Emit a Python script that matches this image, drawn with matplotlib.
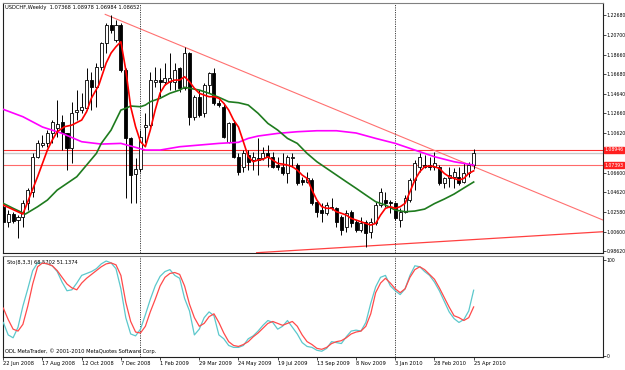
import numpy as np
import matplotlib.pyplot as plt
from matplotlib.transforms import blended_transform_factory

# ---- weekly USDCHF candles, 22 Jun 2008 .. 25 Apr 2010 (bar index 0..96) ----
opens = [1.0314, 1.0161, 1.0239, 1.0178, 1.0212, 1.0348, 1.0467, 1.0824, 1.0943, 1.0960,
         1.1062, 1.1117, 1.1181, 1.1062, 1.0910, 1.1283, 1.1300, 1.1318, 1.1606, 1.1538,
         1.1742, 1.1981, 1.2167, 1.2014, 1.2167, 1.1708, 1.1015, 1.0647, 1.0698, 1.1130,
         1.1147, 1.1589, 1.1606, 1.1589, 1.1589, 1.1589, 1.1726, 1.1522, 1.1879, 1.1232,
         1.1436, 1.1267, 1.1555, 1.1675, 1.1369, 1.1334, 1.0977, 1.1164, 1.0824, 1.0722,
         1.0841, 1.0790, 1.0807, 1.0807, 1.0858, 1.0824, 1.0739, 1.0722, 1.0654, 1.0807,
         1.0739, 1.0586, 1.0569, 1.0586, 1.0365, 1.0280, 1.0247, 1.0314, 1.0298, 1.0212,
         1.0110, 1.0263, 1.0161, 1.0076, 1.0161, 1.0059, 1.0144, 1.0331, 1.0382, 1.0365,
         1.0348, 1.0178, 1.0263, 1.0382, 1.0586, 1.0722, 1.0739, 1.0739, 1.0722, 1.0722,
         1.0552, 1.0603, 1.0620, 1.0620, 1.0569, 1.0654, 1.07368]
highs = [1.0484, 1.0280, 1.0263, 1.0229, 1.0382, 1.0505, 1.0862, 1.0994, 1.1045, 1.1096,
         1.1198, 1.1402, 1.1249, 1.1065, 1.1385, 1.1504, 1.1474, 1.1729, 1.1691, 1.1780,
         1.1997, 1.2184, 1.2269, 1.2218, 1.2184, 1.1729, 1.1025, 1.0810, 1.1096, 1.1270,
         1.1691, 1.1742, 1.1729, 1.1780, 1.1879, 1.1776, 1.1742, 1.1946, 1.1895, 1.1453,
         1.1504, 1.1576, 1.1691, 1.1726, 1.1402, 1.1369, 1.1181, 1.1198, 1.0862, 1.0892,
         1.0892, 1.0875, 1.1011, 1.0926, 1.0943, 1.0875, 1.0824, 1.0858, 1.0841, 1.0858,
         1.0756, 1.0620, 1.0671, 1.0603, 1.0382, 1.0348, 1.0365, 1.0399, 1.0314, 1.0229,
         1.0280, 1.0280, 1.0178, 1.0212, 1.0178, 1.0195, 1.0365, 1.0501, 1.0467, 1.0382,
         1.0365, 1.0298, 1.0433, 1.0603, 1.0790, 1.0858, 1.0841, 1.0824, 1.0875, 1.0739,
         1.0620, 1.0722, 1.0705, 1.0722, 1.0756, 1.0773, 1.08978]
lows = [1.0096, 1.0110, 1.0147, 0.9994, 1.0110, 1.0280, 1.0416, 1.0810, 1.0926, 1.0926,
        1.0960, 1.1028, 1.0892, 1.0688, 1.0756, 1.1198, 1.1270, 1.1300, 1.1300, 1.1334,
        1.1708, 1.1879, 1.2082, 1.1997, 1.1691, 1.0403, 1.0352, 1.0352, 1.0668, 1.0964,
        1.1130, 1.1538, 1.1436, 1.1555, 1.1504, 1.1504, 1.1487, 1.1504, 1.1147, 1.1198,
        1.1232, 1.1232, 1.1471, 1.1351, 1.1334, 1.1011, 1.0960, 1.0810, 1.0637, 1.0671,
        1.0688, 1.0688, 1.0637, 1.0790, 1.0722, 1.0705, 1.0688, 1.0637, 1.0552, 1.0722,
        1.0535, 1.0535, 1.0552, 1.0331, 1.0212, 1.0161, 1.0229, 1.0280, 1.0110, 1.0025,
        1.0059, 1.0110, 1.0059, 1.0059, 0.9906, 0.9998, 1.0127, 1.0314, 1.0314, 1.0247,
        1.0178, 1.0110, 1.0247, 1.0365, 1.0484, 1.0671, 1.0705, 1.0688, 1.0688, 1.0535,
        1.0501, 1.0518, 1.0501, 1.0535, 1.0552, 1.0620, 1.06984]
closes = [1.0161, 1.0239, 1.0171, 1.0212, 1.0355, 1.0484, 1.0824, 1.0964, 1.0964, 1.1062,
          1.1181, 1.1157, 1.1062, 1.0910, 1.1267, 1.1300, 1.1334, 1.1606, 1.1538, 1.1742,
          1.1981, 1.2167, 1.2116, 1.2167, 1.1708, 1.1015, 1.0637, 1.0698, 1.1028, 1.1147,
          1.1606, 1.1606, 1.1589, 1.1627, 1.1627, 1.1708, 1.1522, 1.1879, 1.1232, 1.1436,
          1.1249, 1.1555, 1.1675, 1.1369, 1.1351, 1.1028, 1.1164, 1.0824, 1.0671, 1.0858,
          1.0773, 1.0824, 1.0790, 1.0858, 1.0824, 1.0722, 1.0722, 1.0654, 1.0824, 1.0824,
          1.0552, 1.0569, 1.0603, 1.0348, 1.0263, 1.0247, 1.0331, 1.0298, 1.0161, 1.0076,
          1.0247, 1.0144, 1.0076, 1.0144, 1.0042, 1.0161, 1.0331, 1.0467, 1.0348, 1.0348,
          1.0195, 1.0263, 1.0399, 1.0586, 1.0756, 1.0824, 1.0722, 1.0722, 1.0756, 1.0552,
          1.0603, 1.0637, 1.0671, 1.0552, 1.0654, 1.0739, 1.08652]

# ---- moving averages ----
ma_fast_x = [0, 4, 7, 9, 10, 11, 12.5, 14, 16, 17, 18, 19.5, 21, 22, 23, 24, 25, 26, 27, 28,
             29, 30, 31, 32, 33, 34, 35, 36, 37, 38, 39, 40, 41, 42, 43, 44, 45, 46, 47, 48,
             49, 50, 51, 52, 53, 54, 55, 56, 57, 58, 59, 60, 61, 62, 63, 64, 65, 66, 67, 68,
             69, 70, 71, 72, 73, 74, 75, 76, 77, 78, 79, 80, 81, 82, 83, 84, 85, 86, 87, 88,
             89, 90, 91, 92, 93, 94, 95, 96]
ma_fast = [1.0331, 1.0239, 1.0620, 1.0892, 1.0994, 1.1079, 1.1130, 1.1147, 1.1198, 1.1283,
           1.1423, 1.1555, 1.1780, 1.1882, 1.1946, 1.1997, 1.1708, 1.1334, 1.1130, 1.0977,
           1.0926, 1.1096, 1.1300, 1.1474, 1.1555, 1.1589, 1.1606, 1.1606, 1.1640, 1.1589,
           1.1522, 1.1471, 1.1453, 1.1436, 1.1436, 1.1420, 1.1369, 1.1300, 1.1198, 1.1127,
           1.0977, 1.0824, 1.0773, 1.0790, 1.0797, 1.0824, 1.0790, 1.0756, 1.0749, 1.0739,
           1.0722, 1.0688, 1.0637, 1.0603, 1.0484, 1.0382, 1.0314, 1.0298, 1.0298, 1.0263,
           1.0247, 1.0229, 1.0195, 1.0178, 1.0161, 1.0144, 1.0127, 1.0144, 1.0229, 1.0298,
           1.0314, 1.0298, 1.0314, 1.0348, 1.0467, 1.0586, 1.0671, 1.0722, 1.0729, 1.0722,
           1.0705, 1.0654, 1.0620, 1.0603, 1.0586, 1.0603, 1.0654, 1.0680]

ma_mid_x = [0, 2, 4.5, 7, 9, 11, 13, 15, 17, 19, 20, 22, 23, 24, 25, 26, 28, 29, 30, 32,
            34, 36, 37, 40, 42, 44, 46, 48, 50, 52, 54, 56, 58, 60, 62, 64, 66, 68, 70, 72,
            74, 76, 78, 80, 82, 84, 86, 88, 90, 92, 94, 96]
ma_mid = [1.0348, 1.0298, 1.0239, 1.0314, 1.0382, 1.0484, 1.0552, 1.0620, 1.0739, 1.0858,
          1.0960, 1.1096, 1.1198, 1.1300, 1.1318, 1.1341, 1.1334, 1.1351, 1.1385, 1.1420,
          1.1471, 1.1504, 1.1532, 1.1504, 1.1471, 1.1430, 1.1385, 1.1375, 1.1351, 1.1267,
          1.1164, 1.1096, 1.1011, 1.0960, 1.0858, 1.0773, 1.0705, 1.0637, 1.0569, 1.0502,
          1.0433, 1.0365, 1.0331, 1.0280, 1.0263, 1.0270, 1.0290, 1.0346, 1.0392, 1.0443,
          1.0505, 1.0566]

ma_slow_x = [0, 4, 8, 12, 16, 20, 24, 26.5, 29, 32, 36, 40, 44, 48, 50, 52, 56, 60, 64, 68,
             72, 76, 80, 84, 88, 92, 96]
ma_slow = [1.1307, 1.1232, 1.1127, 1.1062, 1.0977, 1.0953, 1.0960, 1.0926, 1.0892, 1.0892,
           1.0926, 1.0943, 1.0960, 1.0971, 1.1011, 1.1035, 1.1062, 1.1079, 1.1089, 1.1089,
           1.1066, 1.1011, 1.0960, 1.0892, 1.0824, 1.0773, 1.0739]

# ---- drawn objects ----
trend_down_x = [20.8, 122.4]
trend_down_y = [1.2276, 1.0178]
trend_up_x = [51.7, 122.4]
trend_up_y = [0.9845, 1.0059]
level_hi = 1.08946
level_lo = 1.07393
bid = 1.08652
separators = [27.8, 79.9]

# ---- Stochastic (8,3,3) ----
sto_main = [35, 22, 19, 30, 52, 70, 89, 97, 97, 96, 94, 88, 77, 68, 69, 76, 84, 86, 88, 91,
            96, 99, 97, 91, 70, 40, 23, 21, 28, 43, 59, 73, 83, 88, 90, 84, 81, 60, 47, 22,
            28, 40, 46, 42, 22, 18, 11, 9, 9, 11, 18, 21, 26, 32, 37, 35, 28, 31, 37, 30,
            23, 14, 10, 9, 6, 5, 8, 15, 14, 13, 20, 26, 27, 26, 35, 55, 72, 82, 84, 73,
            68, 64, 70, 84, 94, 93, 88, 84, 77, 68, 57, 46, 39, 35, 38, 47, 68.57]
sto_signal = [50, 38, 28, 26, 33, 52, 75, 93, 97, 96, 94, 89, 82, 75, 71, 69, 76, 81, 85, 89,
              93, 96, 97, 95, 84, 56, 36, 25, 24, 31, 46, 59, 73, 82, 86, 87, 85, 73, 54, 40,
              31, 34, 41, 44, 35, 24, 15, 11, 10, 12, 15, 20, 24, 29, 34, 36, 34, 32, 34, 36,
              31, 22, 15, 12, 8, 7, 9, 13, 15, 16, 19, 23, 25, 26, 31, 44, 66, 76, 81, 76,
              70, 66, 70, 82, 90, 93, 90, 85, 80, 71, 61, 51, 42, 40, 37, 40, 51.14]

date_ticks = [0, 8, 16, 24, 32, 40, 48, 56, 64, 72, 80, 88, 96]
date_labels = ['22 Jun 2008', '17 Aug 2008', '12 Oct 2008', '7 Dec 2008', '1 Feb 2009',
               '29 Mar 2009', '24 May 2009', '19 Jul 2009', '13 Sep 2009', '8 Nov 2009',
               '3 Jan 2010', '28 Feb 2010', '25 Apr 2010']
price_ticks = [1.22680, 1.20700, 1.18660, 1.16680, 1.14640, 1.12660, 1.10620,
               1.06600, 1.04620, 1.02580, 1.00600, 0.98620]

FS = 3.7     # general small text
FSP = 3.3    # price scale text
fig = plt.figure(figsize=(6.25, 3.7), dpi=100)
fig.patch.set_facecolor('white')
ax = fig.add_axes([3 / 625, 1 - 253 / 370, 600 / 625, 250 / 370])
ax2 = fig.add_axes([3 / 625, 1 - 357 / 370, 600 / 625, 101 / 370])

xlim = (-0.06, 122.4)
idx = np.arange(len(opens))
o = np.array(opens)
c = np.array(closes)

# candles
ax.vlines(idx, lows, highs, color='black', lw=0.7, zorder=2)
body_lo = np.minimum(o, c)
body_h = np.maximum(np.abs(c - o), 0.0002)
face = ['white' if cc >= oo else 'black' for oo, cc in zip(opens, closes)]
ax.bar(idx, body_h, bottom=body_lo, width=0.62, color=face, edgecolor='black',
       linewidth=0.6, zorder=3)

# levels and trendlines
ax.axhline(level_hi, color='#ff3030', lw=0.8, zorder=1)
ax.axhline(bid, color='#c8c8c8', lw=1.0, zorder=1)
ax.axhline(level_lo, color='#ff6a6a', lw=0.8, zorder=1)
ax.plot(trend_down_x, trend_down_y, color='#ff7070', lw=0.8, zorder=1)
ax.plot(trend_up_x, trend_up_y, color='#ff4040', lw=0.9, zorder=1)

# moving averages
ax.plot(ma_slow_x, ma_slow, color='#ff00ff', lw=1.2, zorder=4)
ax.plot(ma_mid_x, ma_mid, color='#1e7b1e', lw=1.2, zorder=4)
ax.plot(ma_fast_x, ma_fast, color='#ff0000', lw=1.2, zorder=5)

for s in separators:
    ax.axvline(s, color='#404040', lw=0.7, ls=(0, (1.2, 1.2)), zorder=1)
    ax2.axvline(s, color='#404040', lw=0.7, ls=(0, (1.2, 1.2)), zorder=1)

ax.set_xlim(*xlim)
ax.set_ylim(0.9842, 1.2392)
ax.set_xticks([])
ax.yaxis.tick_right()
ax.set_yticks(price_ticks)
ax.set_yticklabels([f'{p:.5f}' for p in price_ticks])
ax.tick_params(axis='y', labelsize=FSP, length=2, width=0.5, pad=0.6, colors='black')

ax.text(0.004, 0.992, 'USDCHF,Weekly  1.07368 1.08978 1.06984 1.08652',
        transform=ax.transAxes, fontsize=FS, va='top', ha='left')

tr = blended_transform_factory(ax.transAxes, ax.transData)
for lv in (level_hi, level_lo):
    ax.text(1.002, lv, f'{lv:.5f}', transform=tr, fontsize=FSP, color='white',
            va='center', ha='left', clip_on=False,
            bbox=dict(boxstyle='square,pad=0.12', fc='#ff2020', ec='#ff2020'))

# stochastic
ax2.plot(idx, sto_main, color='#5cc8cc', lw=0.9, zorder=3)
ax2.plot(idx, sto_signal, color='#ff4a4a', lw=0.9, zorder=4)
ax2.set_xlim(*xlim)
ax2.set_ylim(-1.0, 104.2)
ax2.yaxis.tick_right()
ax2.set_yticks([0, 100])
ax2.set_yticklabels(['0', '100'])
ax2.tick_params(axis='y', labelsize=FSP, length=2, width=0.5, pad=0.6)
ax2.set_xticks(date_ticks)
ax2.set_xticklabels(date_labels, ha='left')
ax2.tick_params(axis='x', labelsize=FS, length=2, width=0.5, pad=1)
ax2.text(0.006, 0.965, 'Sto(8,3,3) 68.5702 51.1374', transform=ax2.transAxes,
         fontsize=FS, va='top', ha='left')
ax2.text(0.003, 0.03, 'ODL MetaTrader, \u00a9 2001-2010 MetaQuotes Software Corp.',
         transform=ax2.transAxes, fontsize=FS, va='bottom', ha='left')

for a in (ax, ax2):
    for side in ('left', 'right', 'bottom'):
        a.spines[side].set_color('#202020')
        a.spines[side].set_linewidth(0.8)
    a.spines['top'].set_color('#808080')
    a.spines['top'].set_linewidth(0.8)

fig.savefig('out.png', dpi=100)
